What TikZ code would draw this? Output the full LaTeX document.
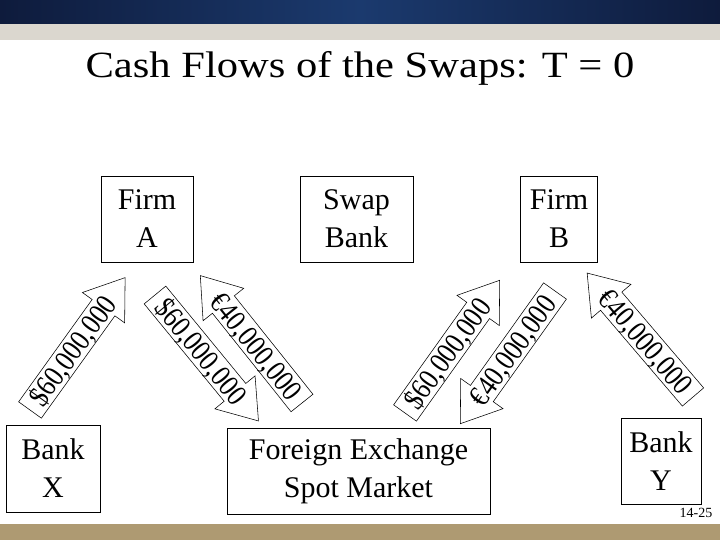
\documentclass[tikz,border=0pt]{standalone}
\usepackage{fontspec}
\setmainfont{Liberation Serif}
\newfontfamily\titrefont[FakeStretch=1.15]{Liberation Serif}
\newfontfamily\montantfont[FakeStretch=0.85]{Liberation Serif}
\usepackage{tikz}
\definecolor{bleuNuit}{RGB}{14,27,60}
\definecolor{bleuBandeau}{RGB}{27,58,110}
\definecolor{beigeClair}{RGB}{219,215,207}
\definecolor{ocreBas}{RGB}{174,154,114}

\tikzset{
  fleche/.pic={
    \draw[line width=0.55pt, fill=white] (0,-14) -- (126,-14) -- (126,-26) -- (163,0)
      -- (126,26) -- (126,14) -- (0,14) -- cycle;
  }
}

\begin{document}
\begin{tikzpicture}[x=1pt, y=1pt,
    boite/.style={draw=black, line width=0.8pt, fill=white, align=center, inner sep=0pt,
                  font=\fontsize{30}{38}\selectfont},
    montant/.style={inner sep=0pt, text height=20pt, text depth=0pt,
                    font=\montantfont\fontsize{30}{30}\selectfont}]

\useasboundingbox (0,0) rectangle (720,540);

% fond et bandeaux
\fill[white] (0,0) rectangle (720,540);
\shade[left color=bleuNuit, right color=bleuNuit, middle color=bleuBandeau] (0,516) rectangle (720,540);
\fill[beigeClair] (0,500) rectangle (720,516);
\fill[ocreBas] (0,0) rectangle (720,16);

\node[font=\titrefont\fontsize{37}{37}\selectfont, anchor=base] (titre) at (360,462) {Cash Flows of the Swaps: T = 0};

% les acteurs
\node[boite, minimum width=92pt, minimum height=86pt] (firmeA) at (147,321) {Firm\\A};
\node[boite, minimum width=113pt, minimum height=86pt] (banqueSwap) at (356.5,321) {Swap\\Bank};
\node[boite, minimum width=77pt, minimum height=86pt] (firmeB) at (559,321) {Firm\\B};
\node[boite, minimum width=94pt, minimum height=87pt] (banqueX) at (53,71.5) {Bank\\X};
\node[boite, minimum width=263pt, minimum height=86pt] (marche) at (358.5,69) {Foreign Exchange\\Spot Market};
\node[boite, minimum width=80pt, minimum height=86pt] (banqueY) at (661,79) {Bank\\Y};

% flux (queue, angle)
\pic[shift={(30,130)}, rotate=54.3] {fleche};
\node[montant, rotate=54.3] (fluxXA) at ([shift={(54.3:73)}]30,130) {\$60,000,000};

\pic[shift={(155,245)}, rotate=-50.6] {fleche};
\node[montant, rotate=-50.6] (fluxAM) at ([shift={(-50.6:73)}]155,245) {\$60,000,000};

\pic[shift={(302,137)}, rotate=128.6] {fleche};
\node[montant, rotate=-51.4] (fluxMA) at ([shift={(128.6:73)}]302,137) {€40,000,000};

\pic[shift={(405,127)}, rotate=54.5] {fleche};
\node[montant, rotate=54.5] (fluxMB) at ([shift={(54.5:73)}]405,127) {\$60,000,000};

\pic[shift={(555,249)}, rotate=-125.5] {fleche};
\node[montant, rotate=54.5] (fluxBM) at ([shift={(-125.5:73)}]555,249) {€40,000,000};

\pic[shift={(693,143)}, rotate=130.5] {fleche};
\node[montant, rotate=-49.5] (fluxYB) at ([shift={(130.5:73)}]693,143) {€40,000,000};

\node[font=\fontsize{14}{14}\selectfont] (page) at (696,27) {14-25};

\end{tikzpicture}
\end{document}
